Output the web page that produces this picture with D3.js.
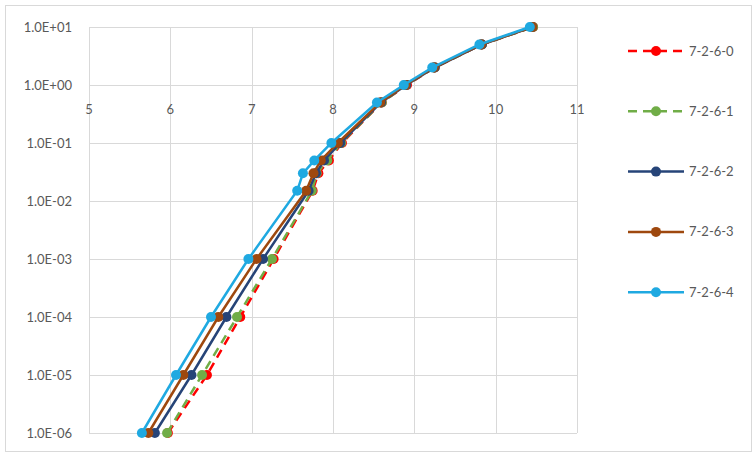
<!DOCTYPE html>
<html>
<head>
<meta charset="utf-8">
<script src="https://cdn.jsdelivr.net/npm/d3@7"></script>
<style>
  body { margin: 0; background: #fff; }
  text { font-family: Lato, "Open Sans", sans-serif; fill: #595959; }
</style>
</head>
<body>
<svg id="chart" width="756" height="456"></svg>
<script>
const svg = d3.select("#chart");

// probability levels (y) shared by every series
const yLevels = [1e-6, 1e-5, 1e-4, 1e-3, 1.5e-2, 3e-2, 5e-2, 1e-1, 5e-1, 1, 2, 5, 10];

// x values per series
const s0 = [5.97, 6.45, 6.86, 7.27, 7.75, 7.82, 7.95, 8.11, 8.60, 8.91, 9.25, 9.83, 10.46];
const s1 = [5.96, 6.39, 6.82, 7.25, 7.74, 7.80, 7.93, 8.10, 8.60, 8.90, 9.25, 9.83, 10.46];
const s2 = [5.81, 6.26, 6.69, 7.14, 7.70, 7.79, 7.89, 8.09, 8.59, 8.90, 9.25, 9.83, 10.45];
const s3 = [5.73, 6.16, 6.59, 7.06, 7.67, 7.76, 7.85, 8.06, 8.58, 8.89, 9.24, 9.82, 10.45];
const s4 = [5.65, 6.07, 6.50, 6.96, 7.56, 7.63, 7.77, 7.98, 8.54, 8.87, 9.22, 9.80, 10.42];

const seriesNames = ["7-2-6-0", "7-2-6-1", "7-2-6-2", "7-2-6-3", "7-2-6-4"];
const seriesColors = ["#FF0000", "#70AD47", "#264478", "#9E480E", "#1FA9E1"];
const seriesDashed = [true, true, false, false, false];
const seriesX = [s0, s1, s2, s3, s4];

const xTicks = [5, 6, 7, 8, 9, 10, 11];
const yTicks = [1e-6, 1e-5, 1e-4, 1e-3, 1e-2, 1e-1, 1, 10];
const yTickLabels = ["1.0E-06", "1.0E-05", "1.0E-04", "1.0E-03", "1.0E-02", "1.0E-01", "1.0E+00", "1.0E+01"];

// chart frame
svg.append("rect")
  .attr("x", 5.5).attr("y", 5.5)
  .attr("width", 746).attr("height", 446)
  .attr("fill", "#fff")
  .attr("stroke", "#D9D9D9");

const x = d3.scaleLinear().domain([5, 11]).range([89, 577]);
const y = d3.scaleLog().domain([1e-6, 10]).range([433, 27]);

// gridlines
const grid = svg.append("g");
grid.selectAll("line.v")
  .data(xTicks)
  .join("line")
    .attr("class", "v")
    .attr("x1", d => Math.round(x(d)) + 0.5).attr("x2", d => Math.round(x(d)) + 0.5)
    .attr("y1", y(10)).attr("y2", y(1e-6))
    .attr("stroke", "#D9D9D9");
grid.selectAll("line.h")
  .data(yTicks)
  .join("line")
    .attr("class", "h")
    .attr("x1", x(5)).attr("x2", x(11))
    .attr("y1", d => Math.round(y(d)) + 0.5).attr("y2", d => Math.round(y(d)) + 0.5)
    .attr("stroke", "#D9D9D9");

// y axis labels
svg.append("g")
  .selectAll("text")
  .data(yTicks)
  .join("text")
    .attr("x", 72)
    .attr("y", d => y(d) + 4.5)
    .attr("text-anchor", "end")
    .attr("font-size", 13)
    .text((d, i) => yTickLabels[i]);

// x axis labels (axis crosses at 1.0E+00)
svg.append("g")
  .selectAll("text")
  .data(xTicks)
  .join("text")
    .attr("x", d => x(d))
    .attr("y", y(1) + 29)
    .attr("text-anchor", "middle")
    .attr("font-size", 13)
    .text(d => d);

// series
const line = d3.line()
  .x(d => x(d[0]))
  .y(d => y(d[1]));

seriesX.forEach((xs, i) => {
  const pts = xs.map((v, j) => [v, yLevels[j]]);
  const g = svg.append("g");
  g.append("path")
    .datum(pts)
    .attr("d", line)
    .attr("fill", "none")
    .attr("stroke", seriesColors[i])
    .attr("stroke-width", 2.5)
    .attr("stroke-dasharray", seriesDashed[i] ? "9,6" : null);
  g.selectAll("circle")
    .data(pts)
    .join("circle")
      .attr("cx", d => x(d[0]))
      .attr("cy", d => y(d[1]))
      .attr("r", 5)
      .attr("fill", seriesColors[i]);
});

// legend
const legend = svg.append("g");
seriesNames.forEach((name, i) => {
  const ly = 51 + i * 60.3;
  legend.append("line")
    .attr("x1", 628).attr("x2", 684)
    .attr("y1", ly).attr("y2", ly)
    .attr("stroke", seriesColors[i])
    .attr("stroke-width", 2.5)
    .attr("stroke-dasharray", seriesDashed[i] ? "9,6" : null);
  legend.append("circle")
    .attr("cx", 656).attr("cy", ly)
    .attr("r", 5)
    .attr("fill", seriesColors[i]);
  legend.append("text")
    .attr("x", 689).attr("y", ly + 4.5)
    .attr("font-size", 13)
    .text(name);
});
</script>
</body>
</html>
